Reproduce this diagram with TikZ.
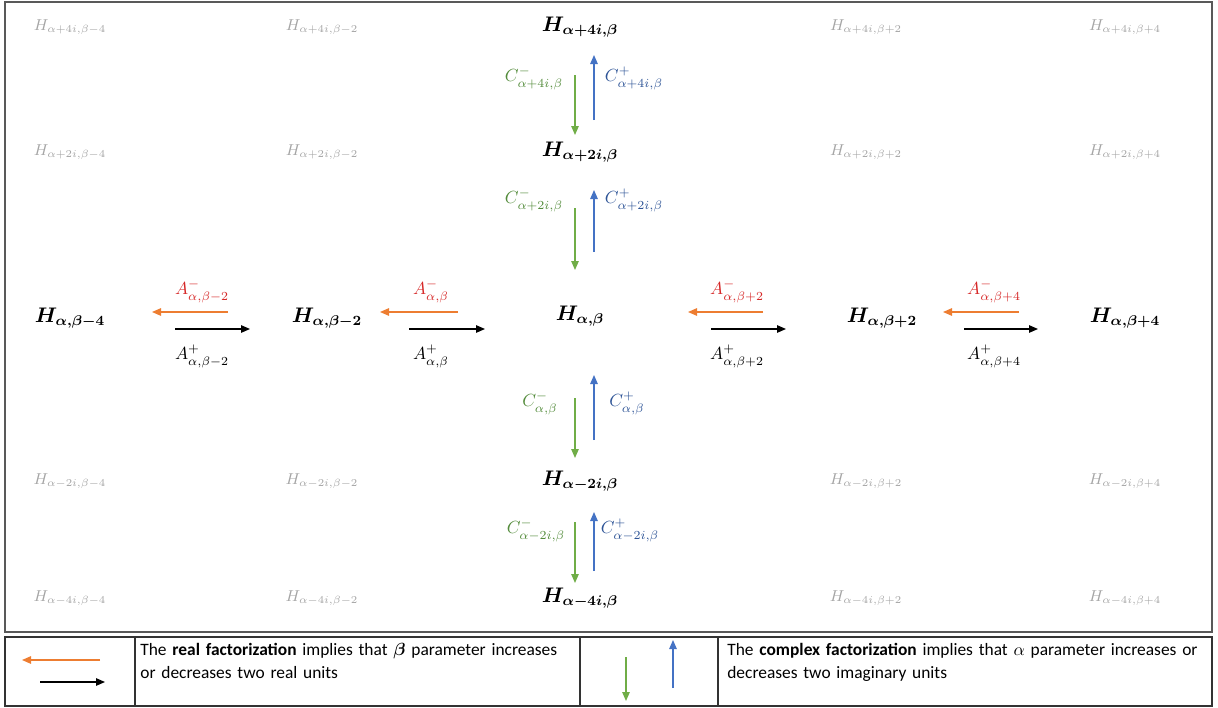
\documentclass[tikz,border=0pt]{standalone}
\usepackage{amsmath}
\usepackage{bm}
\usepackage{fontspec}
\setsansfont{Carlito}
\usepackage{xcolor}
\usetikzlibrary{positioning}
\usetikzlibrary{arrows.meta}

\definecolor{realneg}{RGB}{237,125,49}
\definecolor{reallab}{RGB}{214,40,40}
\definecolor{cplxneg}{RGB}{112,173,71}
\definecolor{cplxneglab}{RGB}{84,140,60}
\definecolor{cplxpos}{RGB}{68,114,196}
\definecolor{cplxposlab}{RGB}{47,85,151}
\definecolor{ghost}{RGB}{165,165,165}

\begin{document}
\begin{tikzpicture}
  [
    x=0.2mm, y=-0.2mm,
    hmain/.style={font=\large, inner sep=1pt},
    hgray/.style={text=ghost, font=\small, inner sep=1pt},
    lab/.style={inner sep=1pt},
    tip/.style={-{Triangle[length=1.8mm,width=1.5mm]}, line width=0.7pt},
    aminus/.style={tip, draw=realneg},
    aplus/.style={tip, draw=black},
    cminus/.style={tip, draw=cplxneg},
    cplus/.style={tip, draw=cplxpos},
    legtext/.style={anchor=north west, font=\sffamily\fontsize{9.9}{13.2}\selectfont,
      align=left, inner sep=0pt}
  ]
  \useasboundingbox (0,0) rectangle (1218,708);
  \draw [black!65, line width=0.9pt] (5,2) rectangle (1212,632);

  % main row and column
  \node (h0)  at (580,316) [hmain] {$\bm{H_{\alpha,\beta}}$};
  \node (hl1) at (327,318) [hmain] {$\bm{H_{\alpha,\beta-2}}$};
  \node (hl2) at (70,318)  [hmain] {$\bm{H_{\alpha,\beta-4}}$};
  \node (hr1) at (882,318) [hmain] {$\bm{H_{\alpha,\beta+2}}$};
  \node (hr2) at (1125,318)[hmain] {$\bm{H_{\alpha,\beta+4}}$};
  \node (hu1) at (580,152) [hmain] {$\bm{H_{\alpha+2i,\beta}}$};
  \node (hu2) at (580,27)  [hmain] {$\bm{H_{\alpha+4i,\beta}}$};
  \node (hd1) at (580,481) [hmain] {$\bm{H_{\alpha-2i,\beta}}$};
  \node (hd2) at (580,598) [hmain] {$\bm{H_{\alpha-4i,\beta}}$};

  % grey corners
  \node (g1) at (70,27)   [hgray] {$H_{\alpha+4i,\beta-4}$};
  \node (g2) at (322,27)  [hgray] {$H_{\alpha+4i,\beta-2}$};
  \node (g3) at (866,27)  [hgray] {$H_{\alpha+4i,\beta+2}$};
  \node (g4) at (1125,27) [hgray] {$H_{\alpha+4i,\beta+4}$};
  \node (g5) at (70,152)  [hgray] {$H_{\alpha+2i,\beta-4}$};
  \node (g6) at (322,152) [hgray] {$H_{\alpha+2i,\beta-2}$};
  \node (g7) at (866,152) [hgray] {$H_{\alpha+2i,\beta+2}$};
  \node (g8) at (1125,152)[hgray] {$H_{\alpha+2i,\beta+4}$};
  \node (g9)  at (70,481)  [hgray] {$H_{\alpha-2i,\beta-4}$};
  \node (g10) at (322,481) [hgray] {$H_{\alpha-2i,\beta-2}$};
  \node (g11) at (866,481) [hgray] {$H_{\alpha-2i,\beta+2}$};
  \node (g12) at (1125,481)[hgray] {$H_{\alpha-2i,\beta+4}$};
  \node (g13) at (70,598)  [hgray] {$H_{\alpha-4i,\beta-4}$};
  \node (g14) at (322,598) [hgray] {$H_{\alpha-4i,\beta-2}$};
  \node (g15) at (866,598) [hgray] {$H_{\alpha-4i,\beta+2}$};
  \node (g16) at (1125,598)[hgray] {$H_{\alpha-4i,\beta+4}$};

  % real factorization arrows
  \coordinate (o1s) at (228,312); \coordinate (o1e) at (152,312);
  \coordinate (k1s) at (175,329); \coordinate (k1e) at (250,329);
  \coordinate (o2s) at (458,312); \coordinate (o2e) at (380,312);
  \coordinate (k2s) at (409,329); \coordinate (k2e) at (485,329);
  \coordinate (o3s) at (763,312); \coordinate (o3e) at (688,312);
  \coordinate (k3s) at (711,329); \coordinate (k3e) at (786,329);
  \coordinate (o4s) at (1019,312); \coordinate (o4e) at (943,312);
  \coordinate (k4s) at (964,329);  \coordinate (k4e) at (1038,329);
  \draw [aminus] (o1s) -- (o1e);
  \draw [aplus]  (k1s) -- (k1e);
  \draw [aminus] (o2s) -- (o2e);
  \draw [aplus]  (k2s) -- (k2e);
  \draw [aminus] (o3s) -- (o3e);
  \draw [aplus]  (k3s) -- (k3e);
  \draw [aminus] (o4s) -- (o4e);
  \draw [aplus]  (k4s) -- (k4e);

  \node (am1) at (202,291) [lab, text=reallab] {$A^{-}_{\alpha,\beta-2}$};
  \node (am2) at (431,291) [lab, text=reallab] {$A^{-}_{\alpha,\beta}$};
  \node (am3) at (737,291) [lab, text=reallab] {$A^{-}_{\alpha,\beta+2}$};
  \node (am4) at (994,291) [lab, text=reallab] {$A^{-}_{\alpha,\beta+4}$};
  \node (ap1) at (202,356) [lab] {$A^{+}_{\alpha,\beta-2}$};
  \node (ap2) at (431,356) [lab] {$A^{+}_{\alpha,\beta}$};
  \node (ap3) at (737,356) [lab] {$A^{+}_{\alpha,\beta+2}$};
  \node (ap4) at (994,356) [lab] {$A^{+}_{\alpha,\beta+4}$};

  % complex factorization arrows
  \coordinate (n1s) at (575,75);  \coordinate (n1e) at (575,135);
  \coordinate (p1s) at (594,120); \coordinate (p1e) at (594,55);
  \coordinate (n2s) at (575,208); \coordinate (n2e) at (575,270);
  \coordinate (p2s) at (594,252); \coordinate (p2e) at (594,190);
  \coordinate (n3s) at (575,398); \coordinate (n3e) at (575,458);
  \coordinate (p3s) at (594,440); \coordinate (p3e) at (594,375);
  \coordinate (n4s) at (575,522); \coordinate (n4e) at (575,583);
  \coordinate (p4s) at (594,571); \coordinate (p4e) at (594,512);
  \draw [cminus] (n1s) -- (n1e);
  \draw [cplus]  (p1s) -- (p1e);
  \draw [cminus] (n2s) -- (n2e);
  \draw [cplus]  (p2s) -- (p2e);
  \draw [cminus] (n3s) -- (n3e);
  \draw [cplus]  (p3s) -- (p3e);
  \draw [cminus] (n4s) -- (n4e);
  \draw [cplus]  (p4s) -- (p4e);

  \node (cm1) at (534,78)  [lab, text=cplxneglab] {$C^{-}_{\alpha+4i,\beta}$};
  \node (cm2) at (534,200) [lab, text=cplxneglab] {$C^{-}_{\alpha+2i,\beta}$};
  \node (cm3) at (540,403) [lab, text=cplxneglab] {$C^{-}_{\alpha,\beta}$};
  \node (cm4) at (536,530) [lab, text=cplxneglab] {$C^{-}_{\alpha-2i,\beta}$};
  \node (cp1) at (634,78)  [lab, text=cplxposlab] {$C^{+}_{\alpha+4i,\beta}$};
  \node (cp2) at (634,200) [lab, text=cplxposlab] {$C^{+}_{\alpha+2i,\beta}$};
  \node (cp3) at (627,403) [lab, text=cplxposlab] {$C^{+}_{\alpha,\beta}$};
  \node (cp4) at (630,530) [lab, text=cplxposlab] {$C^{+}_{\alpha-2i,\beta}$};

  % legend table
  \draw [black!80, line width=0.8pt] (5,637) rectangle (1212,706);
  \draw [black!80, line width=0.8pt] (135,637) -- (135,706);
  \draw [black!80, line width=0.8pt] (580,637) -- (580,706);
  \draw [black!80, line width=0.8pt] (718,637) -- (718,706);

  \coordinate (lo1) at (100,660); \coordinate (lo2) at (22,660);
  \coordinate (lk1) at (40,682);  \coordinate (lk2) at (105,682);
  \coordinate (ln1) at (626,657); \coordinate (ln2) at (626,701);
  \coordinate (lp1) at (673,688); \coordinate (lp2) at (673,640);
  \draw [aminus] (lo1) -- (lo2);
  \draw [aplus]  (lk1) -- (lk2);
  \draw [cminus] (ln1) -- (ln2);
  \draw [cplus]  (lp1) -- (lp2);

  \node (real) at (140,643) [legtext, text width=87mm]
    {The \textbf{real factorization} implies that $\bm{\beta}$ parameter increases\\
     or decreases two real units};
  \node (cplx) at (727,643) [legtext, text width=96mm]
    {The \textbf{complex factorization} implies that $\alpha$ parameter increases or\\
     decreases two imaginary units};
\end{tikzpicture}
\end{document}
